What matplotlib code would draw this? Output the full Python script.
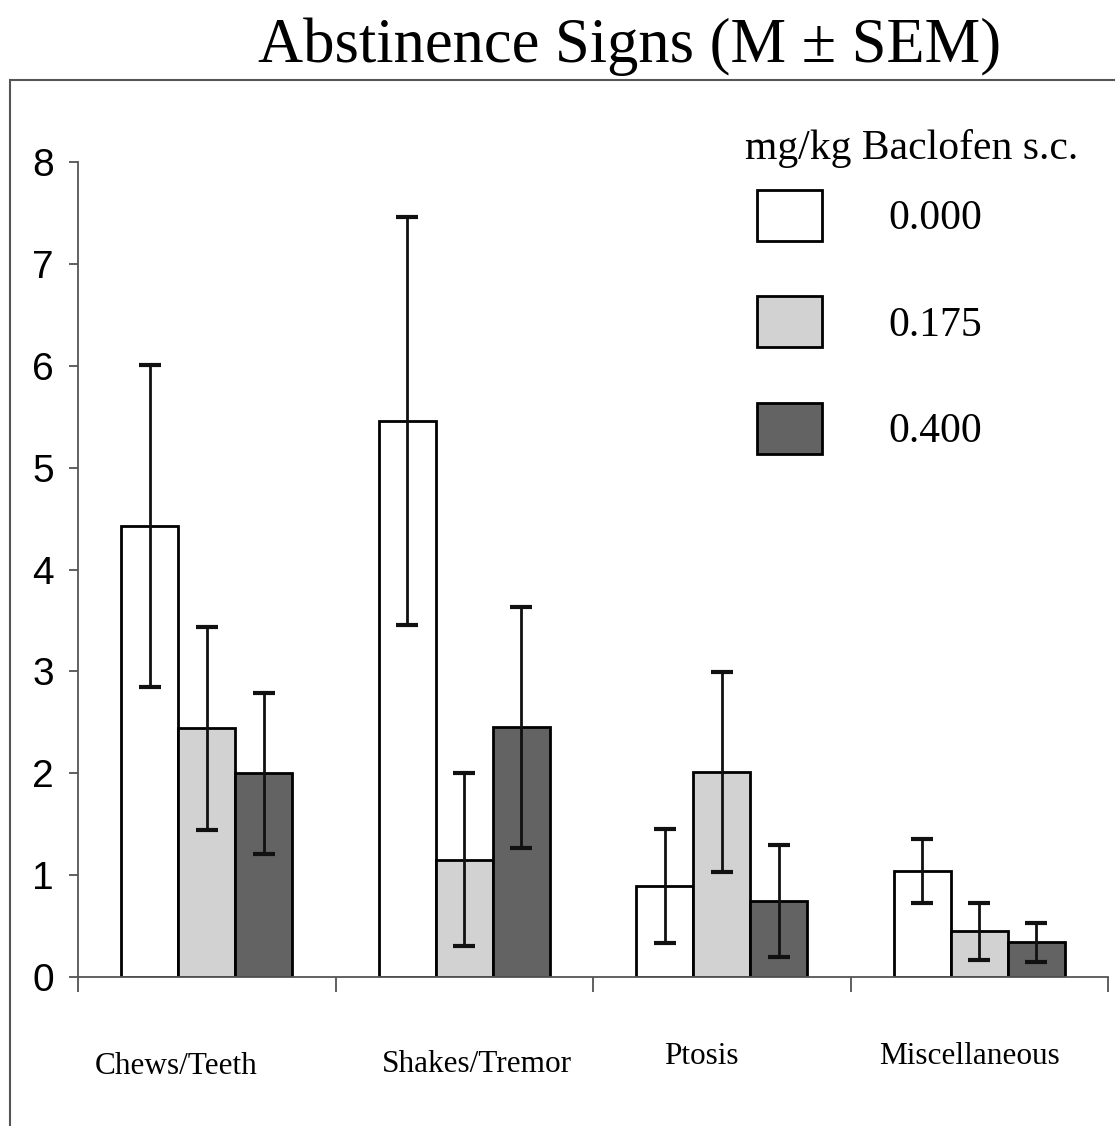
import numpy as np
import matplotlib
matplotlib.use("Agg")
import matplotlib.pyplot as plt
from matplotlib.patches import Rectangle

# values
categories = ["Chews/Teeth", "Shakes/Tremor", "Ptosis", "Miscellaneous"]
doses = ["0.000", "0.175", "0.400"]
mean_0000 = [4.43, 5.46, 0.89, 1.04]
mean_0175 = [2.44, 1.15, 2.01, 0.45]
mean_0400 = [2.00, 2.45, 0.75, 0.34]
sem_0000 = [1.58, 2.00, 0.56, 0.31]
sem_0175 = [1.00, 0.85, 0.98, 0.28]
sem_0400 = [0.79, 1.18, 0.55, 0.19]
yticks = [0, 1, 2, 3, 4, 5, 6, 7, 8]

serif = ["Liberation Serif", "DejaVu Serif"]
sans = ["Liberation Sans", "DejaVu Sans"]

W, H = 1115, 1126
fig = plt.figure(figsize=(W / 100, H / 100), dpi=100)
ax = fig.add_axes([78 / W, 1 - 977 / H, (1108 - 78) / W, (977 - 162) / H])

x = np.arange(len(categories))
bw = 0.222
means = [mean_0000, mean_0175, mean_0400]
sems = [sem_0000, sem_0175, sem_0400]
colors = ["white", "#d2d2d2", "#636363"]
handles = []
for i in range(3):
    b = ax.bar(x + (i - 1) * bw, means[i], bw, color=colors[i], edgecolor="black",
               linewidth=2, zorder=2, label=doses[i])
    ax.errorbar(x + (i - 1) * bw, means[i], yerr=sems[i], fmt="none", ecolor="#111111",
                elinewidth=2, capsize=8, capthick=3, zorder=3)
    handles.append(b)

ax.set_xlim(-0.5, 3.5)
ax.set_ylim(0, 8)
ax.set_yticks(yticks)
ax.set_yticklabels([str(t) for t in yticks], family=sans, fontsize=28)
ax.set_xticks(np.arange(-0.5, 3.6, 1.0))
ax.set_xticklabels([])
ax.tick_params(axis="y", length=6.5, width=1.2, pad=11, color="#444444")
ax.tick_params(axis="x", length=11, width=1.2, direction="out", color="#444444")
for s in ["top", "right"]:
    ax.spines[s].set_visible(False)
for s in ["left", "bottom"]:
    ax.spines[s].set_color("#555555")
    ax.spines[s].set_linewidth(1.3)

# category labels sit unevenly under the groups
label_pos = [(176, 1067), (477, 1065), (701, 1057), (969, 1056)]
for name, (px, py) in zip(categories, label_pos):
    fig.text(px / W, 1 - py / H, name, ha="center", va="center", family=serif, fontsize=22.5)

fig.text(630 / W, 1 - 47 / H, "Abstinence Signs (M \u00b1 SEM)", ha="center", va="center",
         family=serif, fontsize=45)

fig.text(745 / W, 1 - 148 / H, "mg/kg Baclofen s.c.", ha="left", va="center",
         family=serif, fontsize=30)
leg = ax.legend(handles=handles, loc="upper left", bbox_to_anchor=(736 / W, 1 - 169 / H),
                bbox_transform=fig.transFigure, frameon=False, borderpad=0,
                prop={"family": serif, "size": 30},
                handlelength=1.56, handleheight=1.5, handletextpad=1.6, labelspacing=1.34)

# outer frame of the original figure
fig.patches.append(Rectangle((10 / W, -0.05), 1.2, 1 - 80 / H + 0.05, transform=fig.transFigure,
                             fill=False, edgecolor="#555555", linewidth=1.5))

fig.savefig("out.png", dpi=100)
